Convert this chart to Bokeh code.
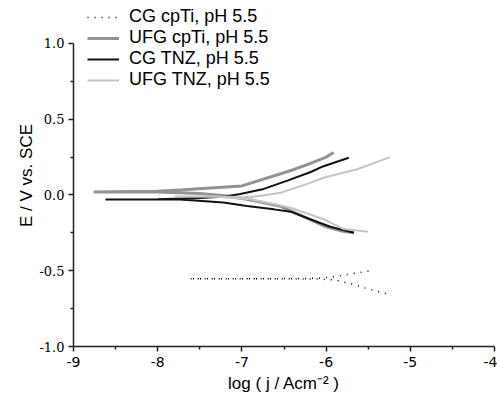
from bokeh.plotting import figure
from bokeh.models import Range1d, FixedTicker, Legend, LegendItem
from bokeh.embed import file_html
from bokeh.resources import INLINE

# CG cpTi (dotted black): cathodic end -> Ecorr -> anodic end
cg_cpti_x = [-5.29, -5.5, -5.71, -5.9, -6.1, -6.5, -7.0, -7.63, -7.0, -6.5, -6.1, -5.9, -5.7, -5.47]
cg_cpti_y = [-0.65, -0.62, -0.585, -0.56, -0.555, -0.553, -0.553, -0.553, -0.553, -0.552, -0.55, -0.54, -0.52, -0.50]

# UFG cpTi (thick gray)
ufg_cpti_x = [-5.67, -5.8, -6.0, -6.2, -6.54, -6.94, -7.2, -7.5, -8.0, -8.76,
              -8.0, -7.7, -7.0, -6.54, -6.4, -6.2, -6.0, -5.91]
ufg_cpti_y = [-0.25, -0.24, -0.21, -0.16, -0.075, -0.028, -0.005, 0.01, 0.02, 0.02,
              0.025, 0.035, 0.06, 0.14, 0.165, 0.205, 0.25, 0.28]

# CG TNZ (black)
cg_tnz_x = [-5.67, -5.95, -6.19, -6.42, -6.62, -6.94, -7.22, -7.73, -8.0, -8.62,
            -8.0, -7.5, -7.2, -7.02, -6.74, -6.46, -6.19, -6.03, -5.73]
cg_tnz_y = [-0.249, -0.21, -0.16, -0.11, -0.095, -0.073, -0.05, -0.03, -0.03, -0.03,
            -0.028, -0.02, -0.01, 0.007, 0.04, 0.095, 0.15, 0.19, 0.246]

# UFG TNZ (light gray)
ufg_tnz_x = [-5.5, -5.79, -6.03, -6.42, -6.9, -7.3, -7.8,
             -7.3, -6.9, -6.54, -6.42, -6.19, -6.03, -5.63, -5.24]
ufg_tnz_y = [-0.242, -0.225, -0.16, -0.084, -0.028, -0.012, -0.01,
             -0.01, -0.015, 0.015, 0.037, 0.08, 0.114, 0.17, 0.25]

labels = ["CG cpTi, pH 5.5", "UFG cpTi, pH 5.5", "CG TNZ, pH 5.5", "UFG TNZ, pH 5.5"]
x_ticks = [-9, -8, -7, -6, -5, -4]
y_ticks = [-1.0, -0.5, 0.0, 0.5, 1.0]

p = figure(width=497, height=396, output_backend="svg", toolbar_location=None,
           x_range=Range1d(-9, -4), y_range=Range1d(-1.0, 1.257),
           min_border_left=73, min_border_right=3, min_border_top=4, min_border_bottom=50)
p.outline_line_color = None
p.grid.visible = False
p.background_fill_color = "white"

r1 = p.line(cg_cpti_x, cg_cpti_y, line_color="black", line_width=1.5, line_dash="1 6")
r2 = p.line(ufg_cpti_x, ufg_cpti_y, line_color="#939393", line_width=3)
r3 = p.line(cg_tnz_x, cg_tnz_y, line_color="#111111", line_width=2)
r4 = p.line(ufg_tnz_x, ufg_tnz_y, line_color="#c4c4c4", line_width=2)

legend = Legend(items=[LegendItem(label=labels[0], renderers=[r1]),
                       LegendItem(label=labels[1], renderers=[r2]),
                       LegendItem(label=labels[2], renderers=[r3]),
                       LegendItem(label=labels[3], renderers=[r4])],
                location=(14, 256), padding=0, margin=0, spacing=0,
                glyph_width=32, glyph_height=18, label_height=18, label_standoff=10,
                label_text_font="Liberation Sans", label_text_font_size="18px",
                label_text_color="black",
                border_line_alpha=0, background_fill_alpha=0)
p.add_layout(legend)

for ax in (p.xaxis[0], p.yaxis[0]):
    ax.axis_line_width = 1.5
    ax.axis_line_color = "#222222"
    ax.major_tick_line_color = "#222222"
    ax.minor_tick_line_color = "#222222"
    ax.major_tick_line_width = 1.5
    ax.minor_tick_line_width = 1.5
    ax.major_tick_out = 5
    ax.major_tick_in = 0
    ax.minor_tick_out = 3
    ax.minor_tick_in = 0
    ax.axis_label_text_font = "Liberation Sans"
    ax.axis_label_text_font_size = "17px"
    ax.axis_label_text_font_style = "normal"
    ax.axis_label_text_color = "black"
    ax.major_label_text_color = "black"

p.xaxis[0].ticker = FixedTicker(ticks=x_ticks, minor_ticks=[-8.5, -7.5, -6.5, -5.5, -4.5])
p.yaxis[0].ticker = FixedTicker(ticks=y_ticks, minor_ticks=[-0.75, -0.25, 0.25, 0.75])
p.xaxis[0].bounds = (-9, -4)
p.yaxis[0].bounds = (-1.0, 1.0)
p.xaxis[0].major_label_overrides = {t: str(t) for t in x_ticks}
p.yaxis[0].major_label_overrides = {t: f"{t:.1f}" for t in y_ticks}
p.xaxis[0].major_label_text_font = "DejaVu Sans"
p.xaxis[0].major_label_text_font_size = "14px"
p.yaxis[0].major_label_text_font = "DejaVu Serif"
p.yaxis[0].major_label_text_font_size = "13px"
p.xaxis[0].major_label_standoff = 5
p.yaxis[0].major_label_standoff = 4
p.xaxis[0].axis_label = "log ( j / Acm\u207b\u00b2 )"
p.yaxis[0].axis_label = "E / V vs. SCE"
p.xaxis[0].axis_label_standoff = 4
p.yaxis[0].axis_label_standoff = 0

open("out.html", "w").write(file_html(p, INLINE))
